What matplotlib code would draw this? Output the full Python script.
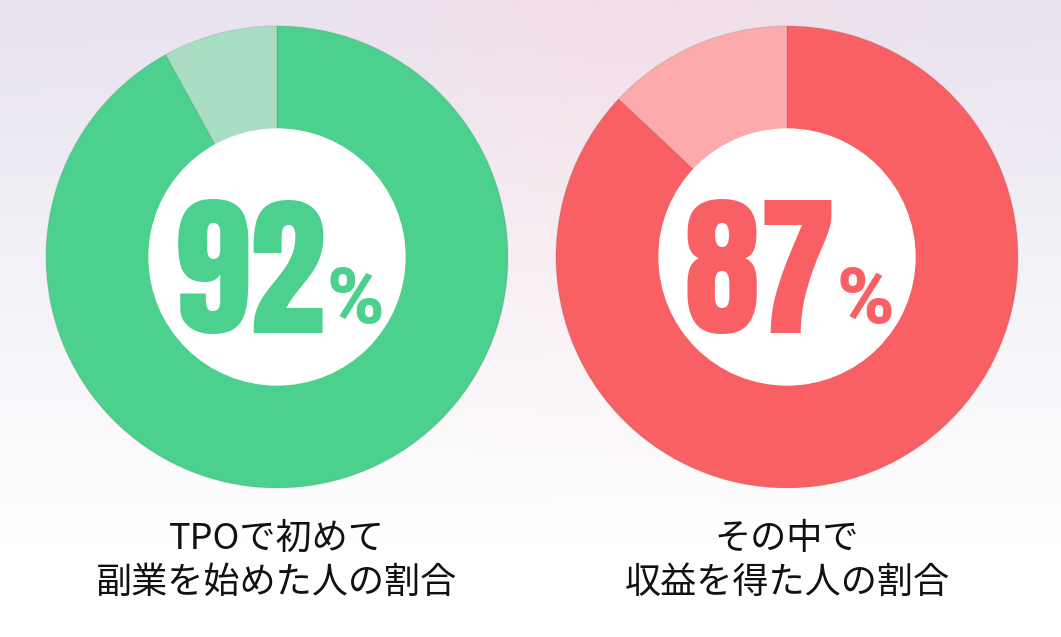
import numpy as np
import matplotlib
matplotlib.use("Agg")
import matplotlib.pyplot as plt

# ---- data ----
values_left = [92, 8]
values_right = [87, 13]
labels_left = "TPOで初めて\n副業を始めた人の割合"
labels_right = "その中で\n収益を得た人の割合"
colors_left = ["#4BD08E", "#A9DEC5"]
colors_right = ["#F96064", "#FDAAAC"]

W, H = 1061, 637
fig = plt.figure(figsize=(W / 100, H / 100), dpi=100)

# background gradient
bg = fig.add_axes([0, 0, 1, 1], zorder=0)
bg.axis("off")
yy, xx = np.mgrid[0:1:200j, 0:1:300j]
top = np.array([0.91, 0.89, 0.94])
pink = np.array([0.95, 0.87, 0.91])
white = np.array([1.0, 1.0, 1.0])
mixx = np.exp(-((xx - 0.6) ** 2) / 0.05)[..., None]
toprow = top * (1 - mixx) + pink * mixx
t = np.clip(yy / 0.85, 0, 1)[..., None]
img = toprow * (1 - t) + white * t
bg.imshow(img, extent=[0, 1, 0, 1], aspect="auto", origin="upper")

ax = fig.add_axes([0, 0, 1, 1], zorder=1)
ax.patch.set_alpha(0)

R_out, R_in = 231, 128
cy = H - 257
NUMFONT = ["Anton", "DejaVu Sans"]
PCTFONT = ["Roboto", "DejaVu Sans"]

for cx, vals, cols, lab in [(277, values_left, colors_left, labels_left),
                            (787, values_right, colors_right, labels_right)]:
    ax.pie(vals, colors=cols, startangle=90, counterclock=False,
           center=(cx, cy), radius=R_out,
           wedgeprops=dict(width=R_out - R_in, linewidth=1.0,
                           edgecolor=(0.3, 0.3, 0.3, 0.12)))
    ax.add_patch(plt.Circle((cx, cy), R_in, color="white", zorder=3))
    ax.text(cx + 49, H - 333, f"{vals[0]}", ha="right", va="baseline",
            fontsize=111, color=cols[0], family=NUMFONT, zorder=4)
    ax.text(cx + 50, H - 323, "%", ha="left", va="baseline",
            fontsize=56, fontweight=900, color=cols[0], family=PCTFONT,
            zorder=5)
    ax.text(cx, H - 561, lab, ha="center", va="center", fontsize=26,
            linespacing=1.3, color="#111111",
            family=["Noto Sans CJK JP", "DejaVu Sans"], zorder=4)

ax.set_xlim(0, W)
ax.set_ylim(0, H)
ax.set_aspect("auto")
ax.axis("off")

fig.savefig("out.png", dpi=100)
